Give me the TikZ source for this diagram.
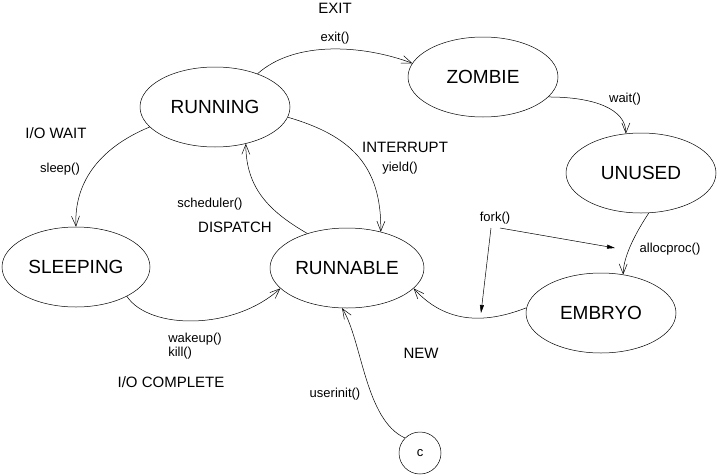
\documentclass[tikz,border=0pt]{standalone}
\usepackage{fontspec}
\setmainfont{Liberation Sans}
\usepackage{tikz}
\usetikzlibrary{shapes.geometric,arrows.meta}
\newcommand\statefont{\fontsize{19}{23}\selectfont}
\newcommand\eventfont{\fontsize{15}{18}\selectfont}
\newcommand\callfont{\fontsize{13}{14}\selectfont}

\begin{document}
\begin{tikzpicture}[
    x=1pt, y=-1pt,
    line width=0.5pt,
    >={Straight Barb[length=10pt,width=8pt]},
    state/.style={ellipse,draw,inner sep=0pt,minimum width=150pt,minimum height=80pt,font=\statefont},
    event/.style={inner sep=0pt,font=\eventfont},
    call/.style={inner sep=0pt,font=\callfont},
    trans/.style={->},
    forkarrow/.style={-{Triangle[length=8pt,width=4pt]}},
]
    \useasboundingbox (0,0) rectangle (717,474);

    % states
    \node[state] (running) at (215,107) {RUNNING};
    \node[state] (zombie) at (483,77) {ZOMBIE};
    \node[state] (unused) at (641,173) {UNUSED};
    \node[state,minimum width=148pt] (sleeping) at (76,267) {SLEEPING};
    \node[state,minimum width=154pt] (runnable) at (347,268) {RUNNABLE};
    \node[state] (embryo) at (601,313) {EMBRYO};
    \node[circle,draw,inner sep=0pt,minimum size=42pt,font=\callfont] (init) at (420,453) {c};

    % labels
    \node[event] (exitlabel) at (335,8) {EXIT};
    \node[call] (exitcall) at (335,38) {exit()};
    \node[event] (iowait) at (56,133) {I/O WAIT};
    \node[call] (sleepcall) at (60,169) {sleep()};
    \node[call] (schedcall) at (210,204) {scheduler()};
    \node[event] (dispatch) at (235,227) {DISPATCH};
    \node[event] (interrupt) at (405,147) {INTERRUPT};
    \node[call] (yieldcall) at (400,168) {yield()};
    \node[call] (waitcall) at (625,99) {wait()};
    \node[call] (forkcall) at (495,218) {fork()};
    \node[call] (alloccall) at (670,249) {allocproc()};
    \node[event] (newlabel) at (421,353) {NEW};
    \node[call,anchor=west,align=left] (wakecall) at (168,346) {wakeup()\\kill()};
    \node[event] (iocomplete) at (171,382) {I/O COMPLETE};
    \node[call] (initcall) at (335,394) {userinit()};

    % transitions
    \draw[trans] (running.38) .. controls +(38,-34) and +(-48,-18) .. (zombie.169);
    \draw[trans] (zombie.-17) .. controls +(45,0) and +(0,-25) .. (unused.111);
    \draw[trans] (running.197) .. controls +(-53,22) and +(-2,-42) .. (sleeping.90);
    \draw[trans] (running.-8) .. controls +(62,18) and +(1,-67) .. (runnable.47);
    \draw[trans] (runnable.139) .. controls +(-36,-21) and +(0,46) .. (running.-50);
    \draw[trans] (sleeping.-30) .. controls +(23,34) and +(-46,42) .. (runnable.197);
    \draw[trans] (unused.-79) .. controls +(-10,15) and +(0,-20) .. (embryo.60);
    \draw[trans] (embryo.176) .. controls +(-31,12) and +(37,41) .. (runnable.-17);
    \draw[trans] (init.135) .. controls +(-40,-18) and +(20,32) .. (runnable.-97);

    \coordinate (forkleft) at (491,228);
    \coordinate (forkright) at (500,228);
    \coordinate (forkdown) at (481,313);
    \coordinate (forkside) at (615,248);
    \draw[forkarrow] (forkleft) -- (forkdown);
    \draw[forkarrow] (forkright) -- (forkside);

\end{tikzpicture}
\end{document}
